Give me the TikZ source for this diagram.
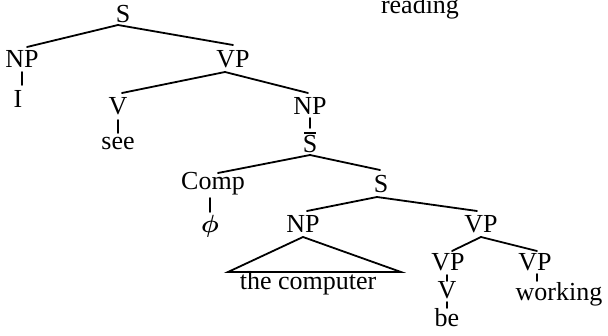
\documentclass[tikz,border=0pt]{standalone}
\usepackage{fontspec}
\setmainfont{Liberation Serif}
\usetikzlibrary{calc}
\begin{document}
\begin{tikzpicture}[x=1pt,y=-1pt,
  lab/.style={font=\fontsize{26}{30}\selectfont, inner sep=0pt, text height=17pt, text depth=0pt, anchor=base},
  edge/.style={line width=1.8pt, line cap=round}]
\useasboundingbox (0,0) rectangle (608,336);
% labels
\node[lab] (reading) at (420,14) {reading};
\node[lab] (s0) at (123,23) {S};
\node[lab] (np1) at (22,68) {NP};
\node[lab] (vp1) at (233,68) {VP};
\node[lab] (i) at (18,108) {I};
\node[lab] (v1) at (118,115) {V};
\node[lab] (see) at (118,150) {see};
\node[lab] (np2) at (310,115) {NP};
\node[lab] (sbar) at (310,153) {S};
\node[lab] (comp) at (213,190) {Comp};
\node[lab, font=\fontsize{32}{36}\selectfont\boldmath] (phi) at (210,233) {$\phi$};
\node[lab] (s1) at (381,193) {S};
\node[lab] (np3) at (303,233) {NP};
\node[lab] (thecomp) at (308,290) {the computer};
\node[lab] (vp2) at (481,233) {VP};
\node[lab] (vp3) at (448,271) {VP};
\node[lab] (vp4) at (535,271) {VP};
\node[lab] (v2) at (447,299) {V};
\node[lab] (be) at (447,327) {be};
\node[lab] (working) at (559,301) {working};
\coordinate (tl) at (228,272);
\coordinate (tr) at (401,272);
% bar over S
\draw[line width=1.4pt] ($(sbar.base)+(-6,-20)$) -- ($(sbar.base)+(6,-20)$);
% branches
\draw[edge] ($(s0.base)+(-5,2)$) -- ($(np1.base)+(5,-21)$);
\draw[edge] ($(s0.base)+(-5,2)$) -- ($(vp1.base)+(0,-23)$);
\draw[edge] ($(vp1.base)+(-8,4)$) -- ($(v1.base)+(4,-22)$);
\draw[edge] ($(vp1.base)+(-8,4)$) -- ($(np2.base)+(-2,-22)$);
\draw[edge] ($(sbar.base)+(0,2)$) -- ($(comp.base)+(5,-17)$);
\draw[edge] ($(sbar.base)+(0,2)$) -- ($(s1.base)+(-1,-23)$);
\draw[edge] ($(s1.base)+(-4,4)$) -- ($(np3.base)+(4,-22)$);
\draw[edge] ($(s1.base)+(-4,4)$) -- ($(vp2.base)+(-4,-22)$);
\draw[edge] ($(vp2.base)+(0,4)$) -- ($(vp3.base)+(4,-20)$);
\draw[edge] ($(vp2.base)+(0,4)$) -- ($(vp4.base)+(2,-20)$);
\draw[edge, line join=miter] ($(np3.base)+(0,4)$) -- (tl) -- (tr) -- cycle;
% vertical links
\draw[edge] ($(np1.base)+(0,4)$) -- ($(np1.base |- i.base)+(0,-23)$);
\draw[edge] ($(v1.base)+(0,5)$) -- ($(see.base)+(0,-17)$);
\draw[edge] ($(np2.base)+(0,3)$) -- ($(sbar.base)+(0,-25)$);
\draw[edge] ($(comp.base -| phi.base)+(0,8)$) -- ($(phi.base)+(0,-21)$);
\draw[edge] ($(vp3.base)+(-1,4)$) -- ($(v2.base)+(0,-18)$);
\draw[edge] ($(v2.base)+(0,3)$) -- ($(be.base)+(0,-19)$);
\draw[edge] ($(vp4.base |- working.base)+(2,-27)$) -- ($(vp4.base |- working.base)+(2,-20)$);
\end{tikzpicture}
\end{document}
